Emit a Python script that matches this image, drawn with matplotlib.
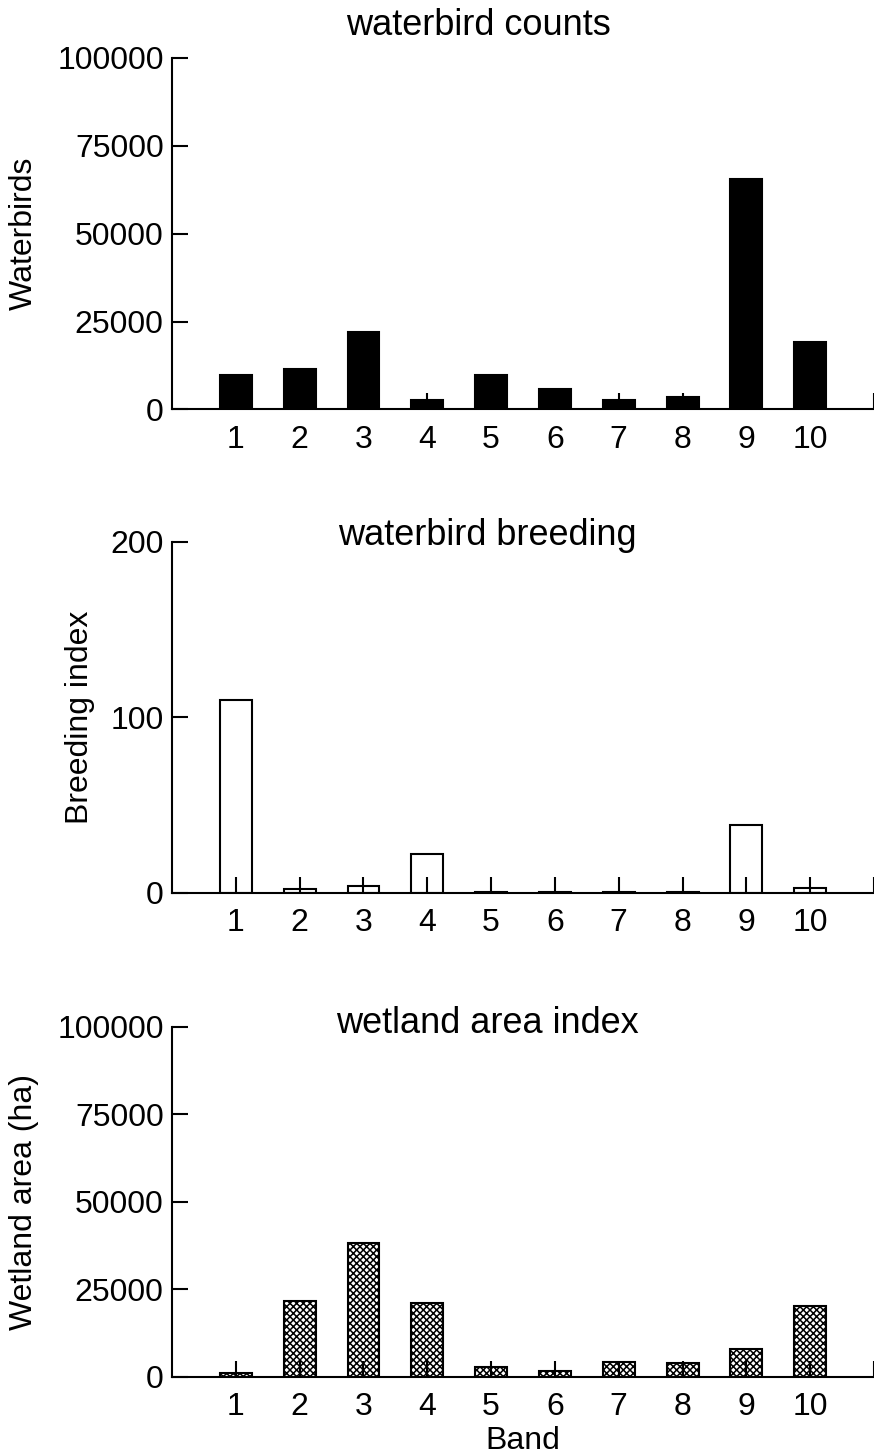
import matplotlib
matplotlib.use('Agg')
import matplotlib.pyplot as plt

plt.rcParams['font.family'] = ['Liberation Sans', 'DejaVu Sans']
plt.rcParams['font.size'] = 23
plt.rcParams['hatch.linewidth'] = 1.1

bands = [1, 2, 3, 4, 5, 6, 7, 8, 9, 10]
waterbirds = [9900, 11600, 21900, 2700, 9700, 5900, 2700, 3500, 65600, 19100]
breeding = [110, 2.1, 4, 22, 0.5, 0.5, 0.5, 0.5, 38.9, 3]
wetland = [1200, 21600, 38300, 21100, 2800, 1700, 4400, 3900, 8100, 20200]

fig = plt.figure(figsize=(8.74, 14.56), dpi=100)

panels = [
    # bottom, height, values, ymax, yticks, title, ylabel, face, hatch, title x/y, ylabel x
    (0.7188, 0.2414, waterbirds, 100000, [0, 25000, 50000, 75000, 100000],
     'waterbird counts', 'Waterbirds', 'black', None, (0.436, 1.065), -0.19),
    (0.3867, 0.2411, breeding, 200, [0, 100, 200],
     'waterbird breeding', 'Breeding index', 'white', None, (0.449, 0.99), -0.11),
    (0.0543, 0.2404, wetland, 100000, [0, 25000, 50000, 75000, 100000],
     'wetland area index', 'Wetland area (ha)', 'white', 'xxxxx', (0.449, 0.983), -0.19),
]

for i, (bot, h, vals, ymax, yt, title, ylab, face, hatch, tpos, ylx) in enumerate(panels):
    ax = fig.add_axes([0.1968, bot, 0.8032, h])
    ax.bar(bands, vals, width=0.5, color=face, edgecolor='black',
           linewidth=1.5, hatch=hatch)
    ax.set_xlim(0, len(bands) + 1)
    ax.set_ylim(0, ymax)
    ax.set_yticks(yt)
    ax.set_xticks(list(range(1, len(bands) + 2)))
    ax.set_xticklabels([str(b) for b in bands] + [''])
    for s in ['top', 'right']:
        ax.spines[s].set_visible(False)
    for s in ['left', 'bottom']:
        ax.spines[s].set_linewidth(1.5)
    ax.tick_params(axis='both', direction='in', length=11.5, width=1.5)
    ax.tick_params(axis='x', pad=11)
    ax.tick_params(axis='y', pad=6)
    ax.set_ylabel(ylab)
    ax.yaxis.set_label_coords(ylx, 0.5)
    ax.text(tpos[0], tpos[1], title, transform=ax.transAxes,
            ha='center', va='baseline', fontsize=26)
    if i == 2:
        ax.set_xlabel('Band', labelpad=3)

fig.savefig('out.png', dpi=100)
